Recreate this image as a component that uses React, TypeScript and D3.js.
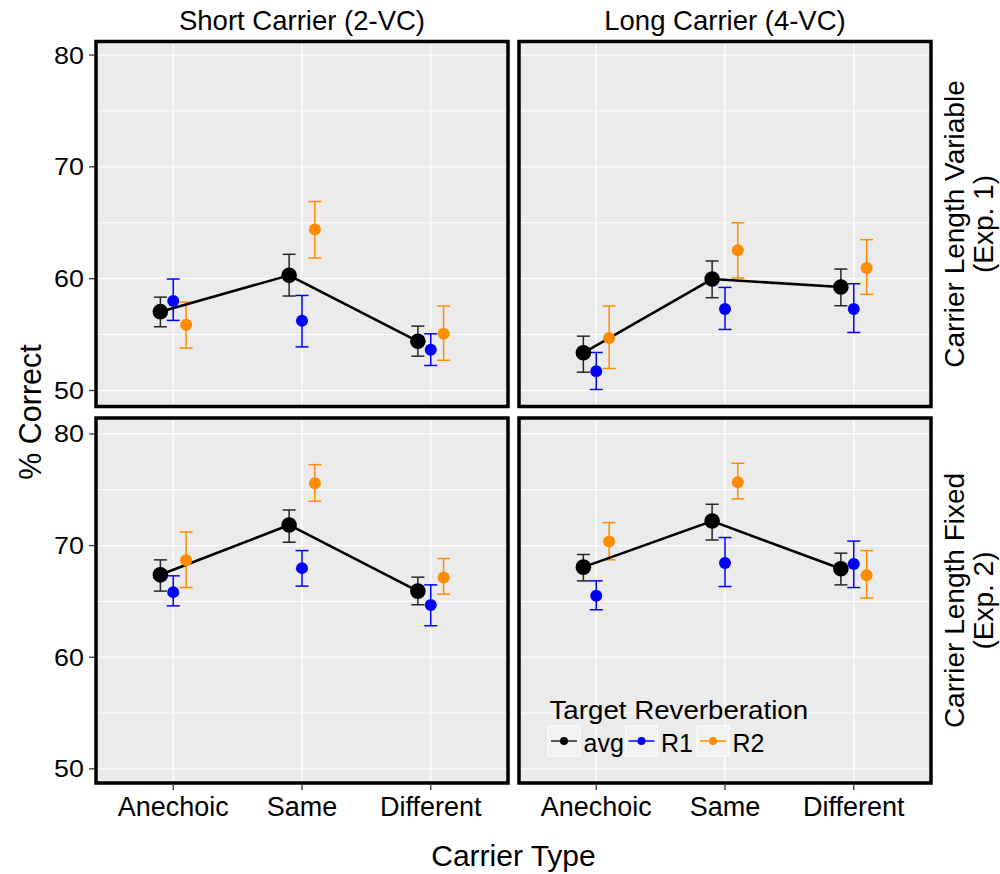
import React from "react";
import * as d3 from "d3";

const categories = ["Anechoic", "Same", "Different"];
const carrierLabels = ["Short Carrier (2-VC)", "Long Carrier (4-VC)"];
const experimentLabels = [
  ["Carrier Length Variable", "(Exp. 1)"],
  ["Carrier Length Fixed", "(Exp. 2)"],
];
const groups = ["avg", "R1", "R2"];
const groupColors = ["#000000", "#0000ff", "#ff8c00"];
const barColors = ["#262626", "#0000ff", "#ff8c00"];
const yTicks = [50, 60, 70, 80];
const yMinorTicks = [55, 65, 75];

// [mean, lower, upper] for Anechoic, Same, Different
const shortExp1Avg = [[57.05, 55.7, 58.35], [60.3, 58.45, 62.18], [54.4, 53.07, 55.76]];
const shortExp1R1 = [[58.0, 56.27, 59.97], [56.24, 53.9, 58.5], [53.64, 52.24, 55.07]];
const shortExp1R2 = [[55.88, 53.8, 57.9], [64.4, 61.85, 66.9], [55.07, 52.7, 57.55]];

const longExp1Avg = [[53.37, 51.64, 54.86], [59.97, 58.3, 61.58], [59.25, 57.58, 60.86]];
const longExp1R1 = [[51.73, 50.09, 53.4], [57.28, 55.46, 59.22], [57.28, 55.19, 59.55]];
const longExp1R2 = [[54.69, 51.97, 57.55], [62.54, 60.06, 65.0], [60.95, 58.6, 63.49]];

const shortExp2Avg = [[67.38, 65.92, 68.72], [71.85, 70.3, 73.19], [65.92, 64.7, 67.17]];
const shortExp2R1 = [[65.83, 64.6, 67.29], [67.98, 66.37, 69.55], [64.67, 62.82, 66.48]];
const shortExp2R2 = [[68.69, 66.24, 71.22], [75.58, 73.97, 77.25], [67.14, 65.65, 68.84]];

const longExp2Avg = [[68.07, 66.84, 69.2], [72.2, 70.5, 73.7], [67.92, 66.48, 69.32]];
const longExp2R1 = [[65.5, 64.25, 66.84], [68.45, 66.33, 70.72], [68.34, 66.24, 70.4]];
const longExp2R2 = [[70.36, 68.72, 72.06], [75.67, 74.18, 77.37], [67.35, 65.3, 69.55]];

const panels = [
  { row: 0, col: 0, series: [shortExp1Avg, shortExp1R1, shortExp1R2] },
  { row: 0, col: 1, series: [longExp1Avg, longExp1R1, longExp1R2] },
  { row: 1, col: 0, series: [shortExp2Avg, shortExp2R1, shortExp2R2] },
  { row: 1, col: 1, series: [longExp2Avg, longExp2R1, longExp2R2] },
];

// layout
const W = 1000;
const H = 874;
const colX = [96, 519];
const rowY = [41.5, 418];
const panelW = 412;
const panelH = 365;
const yDomains = [
  [48.57, 81.21],
  [48.73, 81.43],
];
const dodge = [-0.1, 0, 0.1];
const capHalf = 6.5;
const font = "'Liberation Sans', Arial, Helvetica, sans-serif";

const App = () => {
  const xScales = colX.map((x0) =>
    d3.scaleLinear().domain([-0.6, 2.6]).range([x0, x0 + panelW])
  );
  const yScales = rowY.map((y0, i) =>
    d3.scaleLinear().domain(yDomains[i]).range([y0 + panelH, y0])
  );

  const line = (x: d3.ScaleLinear<number, number>, y: d3.ScaleLinear<number, number>) =>
    d3
      .line<number[]>()
      .x((_, i) => x(i + dodge[0]))
      .y((d) => y(d[0]));

  const legendX = 548;
  const legendKeys = [548, 625.5, 697];

  return (
    <svg width={W} height={H} style={{ position: "absolute", left: 0, top: 0 }} fontFamily={font}>
      <rect width={W} height={H} fill="#ffffff" />

      {panels.map((p, pi) => {
        const x = xScales[p.col];
        const y = yScales[p.row];
        const x0 = colX[p.col];
        const y0 = rowY[p.row];
        return (
          <g key={pi}>
            <rect x={x0} y={y0} width={panelW} height={panelH} fill="#ebebeb" />
            {/* grid */}
            {yMinorTicks.map((t) => (
              <line key={"mi" + t} x1={x0} x2={x0 + panelW} y1={y(t)} y2={y(t)} stroke="#fff" strokeWidth={1} />
            ))}
            {yTicks.map((t) => (
              <line key={"ma" + t} x1={x0} x2={x0 + panelW} y1={y(t)} y2={y(t)} stroke="#fff" strokeWidth={1.3} />
            ))}
            {categories.map((c, i) => (
              <line key={c} x1={x(i)} x2={x(i)} y1={y0} y2={y0 + panelH} stroke="#fff" strokeWidth={1.3} />
            ))}

            {/* error bars */}
            {p.series.map((s, gi) =>
              s.map((d, i) => {
                const cx = x(i + dodge[gi]);
                return (
                  <g key={gi + "-" + i} stroke={barColors[gi]} strokeWidth={1.5} fill="none">
                    <line x1={cx} x2={cx} y1={y(d[1])} y2={y(d[2])} />
                    <line x1={cx - capHalf} x2={cx + capHalf} y1={y(d[1])} y2={y(d[1])} />
                    <line x1={cx - capHalf} x2={cx + capHalf} y1={y(d[2])} y2={y(d[2])} />
                  </g>
                );
              })
            )}

            {/* avg line */}
            <path d={line(x, y)(p.series[0]) || ""} fill="none" stroke="#000" strokeWidth={2.6} />

            {/* points */}
            {p.series.map((s, gi) =>
              s.map((d, i) => (
                <circle
                  key={"pt" + gi + "-" + i}
                  cx={x(i + dodge[gi])}
                  cy={y(d[0])}
                  r={gi === 0 ? 7.8 : 6}
                  fill={groupColors[gi]}
                />
              ))
            )}

            <rect x={x0} y={y0} width={panelW} height={panelH} fill="none" stroke="#000" strokeWidth={3.5} />
          </g>
        );
      })}

      {/* top strips */}
      {carrierLabels.map((l, i) => (
        <text key={l} x={colX[i] + panelW / 2} y={30} textAnchor="middle" fontSize={27.5} fill="#000">
          {l}
        </text>
      ))}

      {/* right strips */}
      {experimentLabels.map((lines, i) => (
        <g key={i} transform={`translate(${colX[1] + panelW + 4},${rowY[i] + panelH / 2}) rotate(-90)`}>
          <text x={0} y={29} textAnchor="middle" fontSize={28} fill="#000">
            {lines[0]}
          </text>
          <text x={0} y={58} textAnchor="middle" fontSize={28} fill="#000">
            {lines[1]}
          </text>
        </g>
      ))}

      {/* y axes */}
      {rowY.map((y0, r) => (
        <g key={"ya" + r}>
          {yTicks.map((t) => (
            <g key={t}>
              <line x1={colX[0] - 7} x2={colX[0] - 1.5} y1={yScales[r](t)} y2={yScales[r](t)} stroke="#333" strokeWidth={1.3} />
              <text
                transform={`translate(${colX[0] - 12},${yScales[r](t) + 8.5}) scale(1.12,1)`}
                textAnchor="end"
                fontSize={24}
                fill="#000"
              >
                {t}
              </text>
            </g>
          ))}
        </g>
      ))}

      {/* x axes */}
      {colX.map((x0, c) => (
        <g key={"xa" + c}>
          {categories.map((cat, i) => (
            <g key={cat}>
              <line
                x1={xScales[c](i)}
                x2={xScales[c](i)}
                y1={rowY[1] + panelH + 1.5}
                y2={rowY[1] + panelH + 7}
                stroke="#333"
                strokeWidth={1.3}
              />
              <text x={xScales[c](i)} y={816} textAnchor="middle" fontSize={27} fill="#000">
                {cat}
              </text>
            </g>
          ))}
        </g>
      ))}

      {/* axis titles */}
      <text x={(colX[0] + colX[1] + panelW) / 2} y={866} textAnchor="middle" fontSize={30} fill="#000">
        Carrier Type
      </text>
      <text transform={`translate(41,412) rotate(-90)`} textAnchor="middle" fontSize={30.5} fill="#000">
        % Correct
      </text>

      {/* legend */}
      <g>
        <text transform={`translate(${legendX + 1.5},719) scale(1.1,1)`} fontSize={25.2} fill="#000">
          Target Reverberation
        </text>
        {groups.map((g, i) => {
          const kx = legendKeys[i];
          const ky = 726;
          return (
            <g key={g}>
              <rect x={kx} y={ky} width={32} height={30} fill="#f2f2f2" stroke="#fff" strokeWidth={1} />
              <line x1={kx + 3} x2={kx + 29} y1={ky + 15} y2={ky + 15} stroke={barColors[i]} strokeWidth={1.5} />
              <circle cx={kx + 16} cy={ky + 15} r={4} fill={groupColors[i]} />
              <text x={kx + 35.5} y={752} fontSize={25} fill="#000">
                {g}
              </text>
            </g>
          );
        })}
      </g>
    </svg>
  );
};

export default App;
